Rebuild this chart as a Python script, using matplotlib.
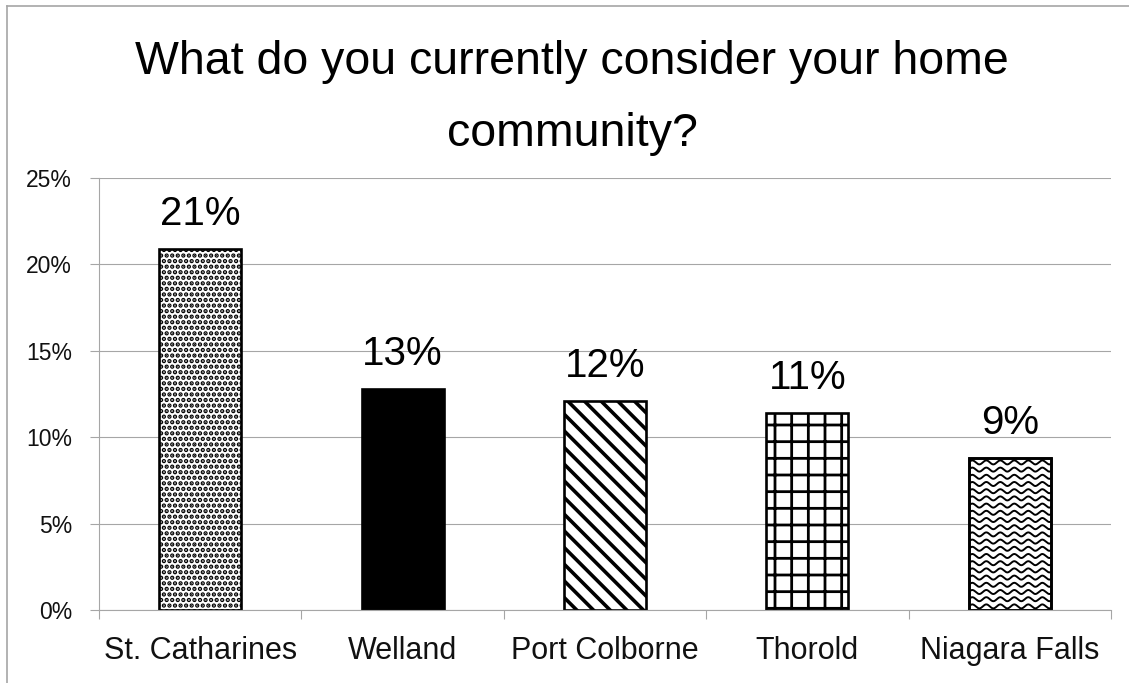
import numpy as np
import matplotlib
matplotlib.use("Agg")
import matplotlib.pyplot as plt
from matplotlib.lines import Line2D

categories = ["St. Catharines", "Welland", "Port Colborne", "Thorold", "Niagara Falls"]
shares = [0.209, 0.128, 0.121, 0.114, 0.088]
y_ticks = [0.0, 0.05, 0.10, 0.15, 0.20, 0.25]
title_lines = ["What do you currently consider your home", "community?"]

plt.rcParams['font.family'] = ['Liberation Sans', 'DejaVu Sans']

W, H = 1129, 683
GRAY = '#A6A6A6'
fig = plt.figure(figsize=(W / 100, H / 100), dpi=100)
ax = fig.add_axes([99 / W, 1 - 610 / H, (1111 - 99) / W, (610 - 178) / H])

x = np.arange(len(categories))
bar_w = 0.405
# (face colour, hatch, hatch line width) per bar; the last one gets a wave fill
styles = [
    ('white', '...', 2.2),
    ('black', None, 1.0),
    ('white', '\\\\', 2.6),
    ('white', '+', 2.0),
    ('white', None, 1.0),
]

bars = []
for xi, v, (fc, hatch, hlw) in zip(x, shares, styles):
    with plt.rc_context({'hatch.linewidth': hlw}):
        b = ax.bar(xi, v, width=bar_w, color=fc, edgecolor='black',
                   linewidth=1.9, hatch=hatch, zorder=2)[0]
    if hasattr(b, 'set_hatch_linewidth'):
        b.set_hatch_linewidth(hlw)
    bars.append(b)

ax.set_xlim(-0.5, len(categories) - 0.5)
ax.set_ylim(0, 0.25)

# wavy fill for the last bar, clipped to the bar outline
wave_bar = bars[-1]
ax_w_px = (1111 - 99)
ax_h_px = (610 - 178)
dx = (len(categories)) / ax_w_px        # data units per pixel (x)
dy = 0.25 / ax_h_px                     # data units per pixel (y)
x0 = wave_bar.get_x()
x1 = x0 + wave_bar.get_width()
top = wave_bar.get_height()
xs = np.linspace(x0 - 0.02, x1 + 0.02, 400)
period = 14 * dx
amp = 2.0 * dy
row = 7.2 * dy
for y0 in np.arange(row * 0.5, top + row, row):
    ln, = ax.plot(xs, y0 + amp * np.sin(2 * np.pi * (xs - x0) / period),
                  color='black', lw=1.4, zorder=2.1)
    ln.set_clip_path(wave_bar)
ax.bar(x[-1], shares[-1], width=bar_w, fill=False, edgecolor='black',
       linewidth=1.9, zorder=2.2)

for xi, v in zip(x, shares):
    ax.annotate(f"{v:.0%}", (xi, v), xytext=(0, 17), textcoords='offset points',
                ha='center', va='baseline', fontsize=29, color='black')

ax.set_yticks(y_ticks)
ax.set_yticklabels([f"{t:.0%}" for t in y_ticks], fontsize=16.5, color='#111111')
ax.set_xticks(x)
ax.set_xticklabels(categories, fontsize=22, color='#111111')
ax.set_xticks(np.arange(len(categories) + 1) - 0.5, minor=True)
ax.tick_params(axis='x', which='major', length=0, pad=19)
ax.tick_params(axis='x', which='minor', length=6.5, width=0.8, color=GRAY, direction='out')
ax.tick_params(axis='y', which='major', length=6.5, width=0.8, color=GRAY, direction='out', pad=13)

ax.grid(axis='y', color=GRAY, linewidth=0.8, zorder=0)
ax.set_axisbelow(True)
for s in ('top', 'right'):
    ax.spines[s].set_visible(False)
for s in ('left', 'bottom'):
    ax.spines[s].set_color(GRAY)
    ax.spines[s].set_linewidth(0.8)

fig.text(572 / W, 1 - 74 / H, title_lines[0], ha='center', va='baseline', fontsize=33.5)
fig.text(572 / W, 1 - 146 / H, title_lines[1], ha='center', va='baseline', fontsize=33.5)

# chart-area frame (top and left edges)
fig.add_artist(Line2D([7 / W, 7 / W], [0, 1 - 6 / H], transform=fig.transFigure,
                      color=GRAY, lw=1.2))
fig.add_artist(Line2D([7 / W, 1], [1 - 6 / H, 1 - 6 / H], transform=fig.transFigure,
                      color=GRAY, lw=1.2))

fig.savefig('out.png', dpi=100)
